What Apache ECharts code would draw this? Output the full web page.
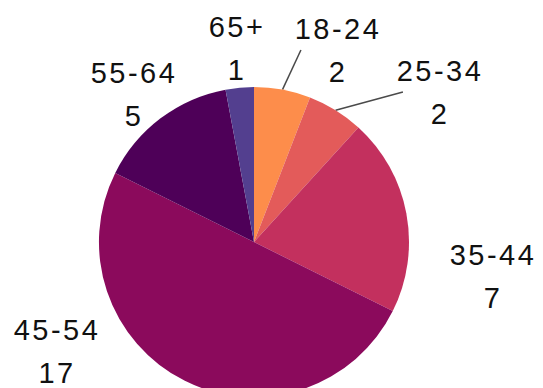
<!DOCTYPE html>
<html>
<head>
<meta charset="utf-8">
<script src="https://cdn.jsdelivr.net/npm/echarts@6/dist/echarts.min.js"></script>
<style>
  html, body { margin: 0; padding: 0; background: #fff; }
  #chart { width: 543px; height: 388px; }
  #chart text { letter-spacing: 2.5px; }
</style>
</head>
<body>
<div id="chart"></div>
<script>
const categories = ['18-24', '25-34', '35-44', '45-54', '55-64', '65+'];
const counts = [2, 2, 7, 17, 5, 1];
const colors = ['#fd8d4b', '#e35b5a', '#c3305e', '#8b0a5c', '#4e0058', '#533f8f'];
const showLine = [true, true, false, false, false, false];
// label block centers (layout only)
const labelPos = [[338, 50], [440, 92], [493, 276], [57, 351], [134, 94], [237, 48]];

const chart = echarts.init(document.getElementById('chart'), null, { renderer: 'svg' });
chart.setOption({
  animation: false,
  series: [{
    type: 'pie',
    center: [254, 242],
    radius: 155,
    startAngle: 90,
    clockwise: true,
    avoidLabelOverlap: false,
    silent: true,
    itemStyle: { borderWidth: 0 },
    label: {
      show: true,
      position: 'outside',
      formatter: '{b}\n{c}',
      fontFamily: "'Liberation Sans', Arial, sans-serif",
      fontSize: 29,
      lineHeight: 43,
      color: '#111',
      align: 'center'
    },
    labelLine: { show: false, length2: 0, lineStyle: { color: '#4a4a4a', width: 1.5 } },
    labelLayout: function (p) {
      const pos = labelPos[p.dataIndex];
      return { x: pos[0], y: pos[1], align: 'center', verticalAlign: 'middle' };
    },
    data: categories.map((c, i) => ({
      name: c,
      value: counts[i],
      itemStyle: { color: colors[i] },
      labelLine: { show: showLine[i], length2: 0 }
    }))
  }]
});
</script>
</body>
</html>
